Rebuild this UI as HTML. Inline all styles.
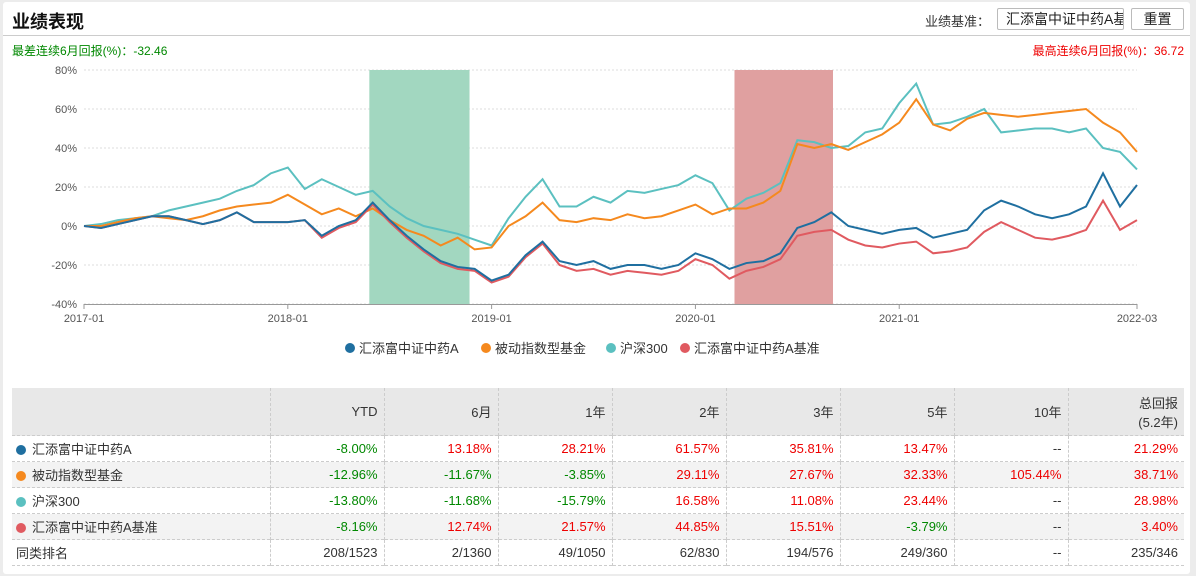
<!DOCTYPE html>
<html><head><meta charset="utf-8">
<style>
body{margin:0;width:1196px;height:576px;background:#ececec;font-family:"Liberation Sans","Noto Sans CJK SC",sans-serif;overflow:hidden;position:relative}
.panel{position:absolute;left:3px;top:2px;width:1187px;height:572px;background:#fff;border-radius:3px}
.title{position:absolute;left:12px;top:8px;font-size:18px;font-weight:bold;color:#111}
.hline{position:absolute;left:3px;top:35px;width:1187px;height:1px;background:#ccc}
.lbl{position:absolute;top:11px;left:925px;font-size:13px;color:#333}
.inp{position:absolute;left:997px;top:8px;width:127px;height:22px;border:1px solid #bbb;border-radius:2px;font-size:14px;line-height:20px;padding-left:8px;box-sizing:border-box;overflow:hidden;white-space:nowrap;color:#222}
.btn{position:absolute;left:1131px;top:8px;width:53px;height:22px;border:1px solid #bbb;border-radius:2px;font-size:14px;line-height:20px;text-align:center;box-sizing:border-box;color:#222}
.worst{position:absolute;left:12px;top:42px;font-size:12px;color:#080}
.best{position:absolute;right:12px;top:42px;font-size:12px;color:#e00}
svg{position:absolute;left:0;top:0}
table{position:absolute;left:12px;top:388px;width:1172px;border-collapse:collapse;font-size:13px;table-layout:fixed}
td{border-right:1px dashed #ccc;text-align:right;padding:0 6px;height:25px;color:#333;white-space:nowrap}
td:first-child{text-align:left;padding-left:4px}
td:last-child{border-right:none}
tr.h td{background:#e8e8e8;height:47px}
tr.g td{background:#f3f3f3}
tr{border-bottom:1px dashed #ccc}
.gr{color:#080}.rd{color:#e00}
.dot{display:inline-block;width:10px;height:10px;border-radius:5px;margin-right:6px;vertical-align:-1px}
</style></head><body>
<div class="panel"></div>
<div class="title">业绩表现</div>
<div class="hline"></div>
<div class="lbl">业绩基准：</div>
<div class="inp">汇添富中证中药A基准</div>
<div class="btn">重置</div>
<div class="worst">最差连续6月回报(%)：-32.46</div>
<div class="best">最高连续6月回报(%)：36.72</div>
<svg id="chart" width="1196" height="380"></svg>
<table>
<colgroup><col style="width:258px"><col style="width:114px"><col style="width:114px"><col style="width:114px"><col style="width:114px"><col style="width:114px"><col style="width:114px"><col style="width:114px"><col style="width:116px"></colgroup>
<tr class="h"><td></td><td>YTD</td><td>6月</td><td>1年</td><td>2年</td><td>3年</td><td>5年</td><td>10年</td><td>总回报<br>(5.2年)</td></tr>
<tr><td><span class="dot" style="background:#1f6fa0"></span>汇添富中证中药A</td><td class="gr">-8.00%</td><td class="rd">13.18%</td><td class="rd">28.21%</td><td class="rd">61.57%</td><td class="rd">35.81%</td><td class="rd">13.47%</td><td>--</td><td class="rd">21.29%</td></tr>
<tr class="g"><td><span class="dot" style="background:#f5891e"></span>被动指数型基金</td><td class="gr">-12.96%</td><td class="gr">-11.67%</td><td class="gr">-3.85%</td><td class="rd">29.11%</td><td class="rd">27.67%</td><td class="rd">32.33%</td><td class="rd">105.44%</td><td class="rd">38.71%</td></tr>
<tr><td><span class="dot" style="background:#5bc0c0"></span>沪深300</td><td class="gr">-13.80%</td><td class="gr">-11.68%</td><td class="gr">-15.79%</td><td class="rd">16.58%</td><td class="rd">11.08%</td><td class="rd">23.44%</td><td>--</td><td class="rd">28.98%</td></tr>
<tr class="g"><td><span class="dot" style="background:#e05a60"></span>汇添富中证中药A基准</td><td class="gr">-8.16%</td><td class="rd">12.74%</td><td class="rd">21.57%</td><td class="rd">44.85%</td><td class="rd">15.51%</td><td class="gr">-3.79%</td><td>--</td><td class="rd">3.40%</td></tr>
<tr><td>同类排名</td><td>208/1523</td><td>2/1360</td><td>49/1050</td><td>62/830</td><td>194/576</td><td>249/360</td><td>--</td><td>235/346</td></tr>
</table>
<script>
const tickLabels=["80%","60%","40%","20%","0%","-20%","-40%"];
const tickValues=[80,60,40,20,0,-20,-40];
const xTickLabels=["2017-01","2018-01","2019-01","2020-01","2021-01","2022-03"];
const xTickMonths=[0,12,24,36,48,62];
const fund=[0,-1,1,3,5,5,3,1,3,7,2,2, 2,3,-5,0,3,12,3,-5,-12,-18,-21,-22, -28,-25,-15,-8,-18,-20,-18,-22,-20,-20,-22,-20, -14,-17,-22,-19,-18,-14,-1,2,7,0,-2,-4, -2,-1,-6,-4,-2,8,13,10,6,4,6,10, 27,10,21];
const passive=[0,0,2,4,5,4,3,5,8,10,11,12, 16,11,6,9,5,9,3,-2,-5,-10,-6,-12, -11,0,5,12,3,2,4,3,6,4,5,8, 11,6,9,9,12,18,42,40,42,39,43,47, 53,65,52,49,55,58,57,56,57,58,59,60, 53,48,38];
const hs300=[0,1,3,4,5,8,10,12,14,18,21,27, 30,19,24,20,16,18,10,4,0,-2,-4,-7, -10,4,15,24,10,10,15,12,18,17,19,21, 26,22,8,14,17,22,44,43,40,41,48,50, 63,73,52,53,56,60,48,49,50,50,48,50, 40,38,29];
const bench=[0,-1,1,3,5,5,3,1,3,7,2,2, 2,3,-6,-1,2,11,2,-6,-13,-19,-22,-23, -29,-26,-16,-9,-20,-23,-22,-25,-23,-24,-25,-23, -17,-20,-27,-23,-21,-17,-5,-3,-2,-7,-10,-11, -9,-8,-14,-13,-11,-3,2,-2,-6,-7,-5,-2, 13,-2,3];
const greenBand=[16.8,22.7], redBand=[38.3,44.1];
const x0=84,x1=1137,y0=70,y1=304;
const X=m=>x0+m*(x1-x0)/62;
const Y=v=>y0+(80-v)*(y1-y0)/120;
const svg=document.getElementById('chart');const NS='http://www.w3.org/2000/svg';
function mk(t,a,p){const e=document.createElementNS(NS,t);for(const k in a)e.setAttribute(k,a[k]);(p||svg).appendChild(e);return e;}
tickValues.forEach((v,i)=>{
 const g=mk('line',{x1:x0,x2:x1,y1:Y(v),y2:Y(v),stroke:'#ddd','stroke-dasharray':'2,2'});
 
 
 const t=mk('text',{x:77,y:Y(v)+4,'text-anchor':'end','font-size':11,fill:'#555'});t.textContent=tickLabels[i];
 
 
});
[[greenBand,'#a2d7c0','worst-period-band'],[redBand,'#e0a0a0','best-period-band']].forEach(([b,c,n])=>{
 const r=mk('rect',{x:X(b[0]),y:y0,width:X(b[1])-X(b[0]),height:y1-y0,fill:c});
 
 
});
mk('line',{x1:x0,x2:x1,y1:y1+0.5,y2:y1+0.5,stroke:'#999'});
xTickMonths.forEach((m,i)=>{
 mk('line',{x1:X(m),x2:X(m),y1:y1,y2:y1+5,stroke:'#999'});
 const t=mk('text',{x:X(m),y:y1+18,'text-anchor':'middle','font-size':11,fill:'#555'});t.textContent=xTickLabels[i];
 
 
});
const series=[[hs300,'#5bc0c0','line-hs300'],[passive,'#f5891e','line-passive'],[bench,'#e05a60','line-benchmark'],[fund,'#1f6fa0','line-fund']];
series.forEach(([d,c,n])=>{
 const p=mk('polyline',{points:d.map((v,i)=>X(i)+','+Y(v)).join(' '),fill:'none',stroke:c,'stroke-width':2});
 
 
});
const legend=[['汇添富中证中药A','#1f6fa0',345],['被动指数型基金','#f5891e',481],['沪深300','#5bc0c0',606],['汇添富中证中药A基准','#e05a60',680]];
legend.forEach(([t,c,x])=>{
 const g=mk('g',{});
 
 
 mk('circle',{cx:x+5,cy:348,r:5,fill:c},g);
 const tx=mk('text',{x:x+14,y:353,'font-size':13,fill:'#333'},g);tx.textContent=t;
});
</script>
</body></html>
